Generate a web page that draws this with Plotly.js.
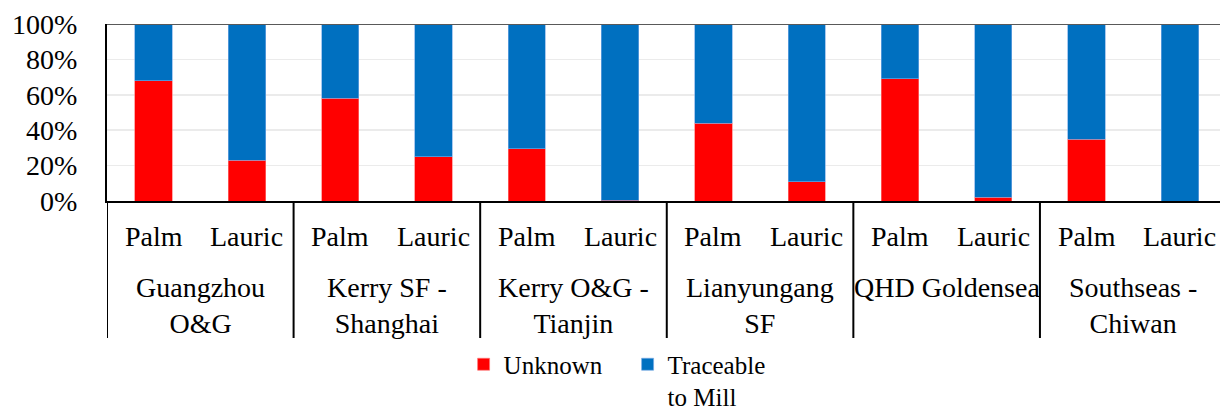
<!DOCTYPE html>
<html>
<head>
<meta charset="utf-8">
<script src="https://cdn.plot.ly/plotly-3.0.1.min.js"></script>
<style>html,body{margin:0;padding:0;background:#fff}#chart{width:1220px;height:419px}</style>
</head>
<body>
<div id="chart"></div>
<script>
const groups = ["Guangzhou<br>O&G", "Kerry SF -<br>Shanghai", "Kerry O&G -<br>Tianjin", "Lianyungang<br>SF", "QHD Goldensea", "Southseas -<br>Chiwan"];
const oilTypes = ["Palm", "Lauric"];
const unknownPct = [68, 23, 58, 25, 29.5, 0.5, 44, 11, 69, 2, 35, 0];
const traceablePct = unknownPct.map(v => 100 - v);
const yTicks = [0, 20, 40, 60, 80, 100];
const yTickText = ["0%", "20%", "40%", "60%", "80%", "100%"];

const FONT = "Liberation Serif";
const keys = [];
groups.forEach((g, gi) => oilTypes.forEach(t => keys.push(gi + "|" + t)));

const traces = [
  {type: "bar", name: "Unknown", x: keys, y: unknownPct, marker: {color: "#FF0000", line: {color: "rgba(255,120,120,0.8)", width: 0.8}}},
  {type: "bar", name: "Traceable<br>to Mill", x: keys, y: traceablePct, marker: {color: "#0070C0", line: {color: "rgba(120,170,230,0.8)", width: 0.8}}}
];

const annotations = [];
keys.forEach((k, i) => {
  annotations.push({xref: "x", yref: "paper", x: k, y: -0.198, yanchor: "middle", text: oilTypes[i % 2], showarrow: false, font: {family: FONT, size: 28, color: "#000"}});
});
groups.forEach((g, gi) => {
  annotations.push({xref: "x", yref: "paper", x: gi * 2 + 0.5, y: -0.39, yanchor: "top", text: g, showarrow: false, font: {family: FONT, size: 28, color: "#000"}});
});

const shapes = [];
for (let gi = 0; gi < groups.length; gi++) {
  shapes.push({type: "line", xref: "x", yref: "paper", x0: gi * 2 - 0.5, x1: gi * 2 - 0.5, y0: 0, y1: -0.774, line: {color: "#000", width: 2}});
}
shapes.push({type: "line", xref: "paper", yref: "y", x0: 0, x1: 1, y0: 100, y1: 100, line: {color: "#595959", width: 2}});

const layout = {
  width: 1220, height: 419,
  margin: {l: 107, r: 0, t: 24, b: 218},
  paper_bgcolor: "#fff", plot_bgcolor: "#fff",
  barmode: "stack", bargap: 0.6,
  font: {family: FONT, size: 28, color: "#000"},
  xaxis: {type: "category", range: [-0.5, 11.43], showticklabels: false, showgrid: false, showline: true, linecolor: "#000", linewidth: 2, ticks: "", zeroline: false},
  yaxis: {range: [0, 100], tickmode: "array", tickvals: yTicks, ticktext: yTickText, showgrid: true, gridcolor: "#ebebeb", gridwidth: 1.5, showline: true, linecolor: "#000", linewidth: 2, ticks: "", zeroline: false, ticklabelstandoff: 22, tickfont: {family: FONT, size: 28, color: "#000"}},
  showlegend: true,
  legend: {orientation: "h", xref: "container", yref: "container", x: 0.38, xanchor: "left", y: 0.185, yanchor: "top", font: {family: FONT, size: 25, color: "#000"}, valign: "top", traceorder: "normal", tracegroupgap: 0, entrywidth: 119, entrywidthmode: "pixels"},
  annotations: annotations,
  shapes: shapes
};

Plotly.newPlot("chart", traces, layout, {displayModeBar: false, staticPlot: true});
</script>
</body>
</html>
